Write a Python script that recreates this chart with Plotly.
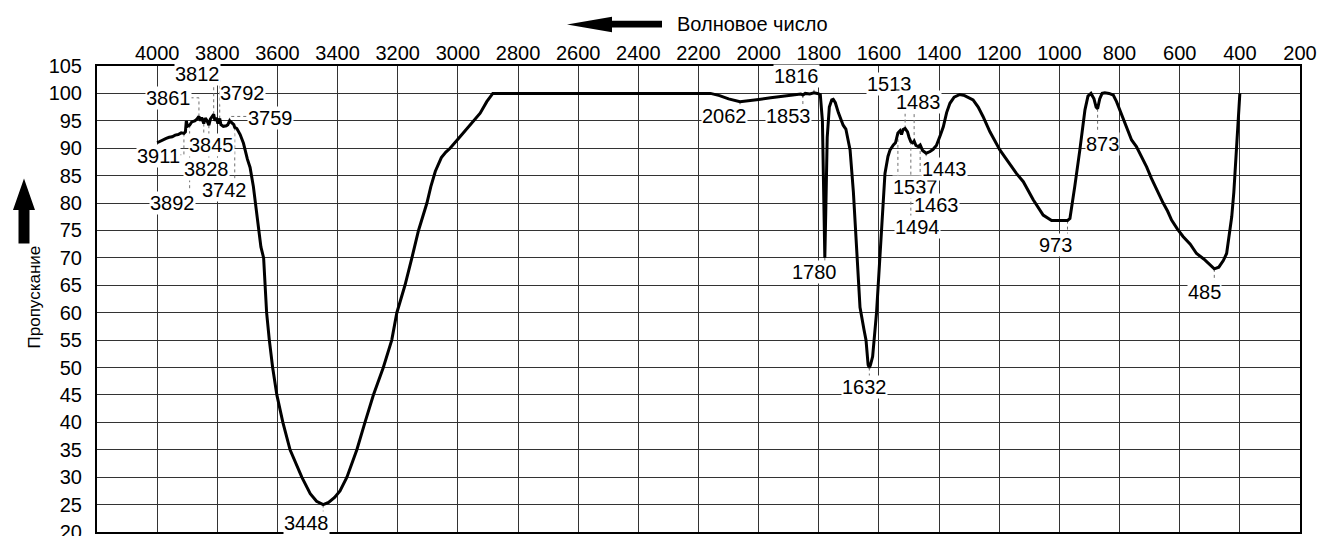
import plotly.graph_objects as go

# IR spectrum: wavenumber (cm-1) and transmittance (%)
wavenumber = [
    4000, 3990, 3980, 3970, 3960, 3950, 3940, 3930, 3920, 3911, 3906, 3903, 3899, 3892,
    3885, 3875, 3868, 3861, 3856, 3852, 3845, 3840, 3834, 3828, 3823, 3818, 3812, 3808,
    3803, 3798, 3792, 3788, 3780, 3770, 3765, 3759, 3752, 3745, 3742, 3735, 3724, 3713,
    3700, 3691, 3680, 3671, 3663, 3655, 3646, 3640, 3636, 3627, 3616, 3602, 3582, 3558,
    3535, 3519, 3491, 3470, 3448, 3430, 3410, 3392, 3369, 3336, 3309, 3281, 3248, 3220,
    3203, 3176, 3153, 3131, 3103, 3090, 3075, 3055, 3040, 3026, 2993, 2960, 2926, 2904,
    2884, 2600, 2300, 2160, 2130, 2100, 2062, 2040, 2000, 1960, 1920, 1880, 1860, 1853,
    1845, 1830, 1816, 1805, 1795, 1788, 1784, 1780, 1777, 1772, 1765, 1757, 1752, 1745,
    1735, 1725, 1719, 1710, 1696, 1685, 1677, 1663, 1650, 1643, 1636, 1632, 1628, 1621,
    1608, 1596, 1591, 1580, 1570, 1563, 1552, 1545, 1537, 1530, 1525, 1520, 1513, 1505,
    1500, 1494, 1488, 1483, 1477, 1470, 1463, 1455, 1443, 1430, 1420, 1409, 1395, 1386,
    1375, 1364, 1350, 1331, 1315, 1300, 1287, 1270, 1254, 1231, 1209, 1198, 1170, 1143,
    1120, 1087, 1054, 1026, 1000, 973, 965, 957, 949, 932, 915, 905, 895, 885, 878, 873,
    866, 858, 849, 835, 821, 810, 799, 777, 760, 744, 727, 710, 694, 677, 655, 640, 627,
    608, 589, 565, 544, 520, 500, 490, 485, 470, 455, 444, 435, 427, 420, 411, 405, 400,
]
transmittance = [
    91.0, 91.3, 91.5, 91.8, 92.0, 92.1, 92.4, 92.5, 92.8, 92.7, 93.0, 95.0, 94.0, 94.2,
    94.8, 95.0, 95.3, 95.8, 95.0, 95.6, 94.5, 95.5, 95.0, 94.2, 95.3, 95.8, 96.2, 95.0,
    95.6, 94.5, 95.4, 94.3, 94.0, 94.1, 94.3, 95.0, 94.6, 94.3, 93.8, 93.6, 92.5, 90.9,
    88.0, 86.5, 83.0, 79.0, 75.0, 72.0, 70.0, 65.0, 60.0, 55.0, 50.0, 45.0, 40.0, 35.0,
    32.0, 30.0, 27.0, 25.6, 25.0, 25.4, 26.3, 27.5, 30.0, 35.0, 40.0, 45.0, 50.0, 55.0,
    60.0, 65.0, 70.0, 75.0, 80.0, 83.0, 85.8, 88.3, 89.3, 90.0, 92.1, 94.2, 96.4, 98.5,
    100.0, 100.0, 100.0, 100.0, 99.6, 99.0, 98.5, 98.6, 98.9, 99.2, 99.5, 99.8, 99.9, 99.7,
    100.0, 99.9, 100.1, 100.0, 99.8, 95.0, 80.0, 70.0, 78.0, 92.0, 97.5, 98.8, 98.9, 98.3,
    96.5, 94.8, 94.2, 93.5, 89.7, 82.0, 75.0, 61.0, 57.0, 55.0, 50.5, 50.0, 50.5, 52.0,
    60.0, 70.0, 74.5, 85.4, 88.5, 89.7, 90.6, 91.0, 92.8, 93.2, 92.5, 93.4, 93.6, 93.0,
    92.0, 91.2, 91.0, 91.3, 90.5, 90.3, 90.6, 89.6, 89.1, 89.4, 89.8, 90.5, 92.5, 93.9,
    96.5, 98.2, 99.3, 99.8, 99.6, 99.2, 98.8, 97.5, 95.8, 93.0, 90.6, 89.7, 87.5, 85.4,
    83.9, 80.6, 77.8, 76.8, 76.8, 76.8, 77.2, 80.0, 83.0, 89.7, 97.0, 99.5, 100.0, 99.0,
    97.5, 97.2, 99.0, 100.0, 100.1, 100.0, 99.7, 98.5, 97.0, 93.9, 91.5, 90.3, 88.5, 86.6,
    84.5, 82.4, 80.0, 78.5, 76.9, 75.3, 73.9, 72.5, 70.8, 69.8, 68.7, 68.3, 68.0, 68.3,
    69.5, 70.8, 74.0, 77.5, 82.0, 89.7, 95.0, 100.0,
]

# Labelled band positions
peak_labels = [3911, 3892, 3861, 3845, 3828, 3812, 3792, 3759, 3742, 3448, 2062, 1853,
               1816, 1780, 1632, 1537, 1513, 1494, 1483, 1463, 1443, 973, 873, 485]

# x-axis ticks and y-axis ticks
x_ticks = list(range(4000, 199, -200))
y_ticks = list(range(20, 106, 5))

# Where each band label sits: (text x, text y, leader bend y, leader end x)
label_place = {
    3911: (3995, 88.5, 88.8, 3924),
    3892: (3948, 80.0, 82.1, None),
    3861: (3963, 99.1, 99.2, 3890),
    3845: (3818, 90.5, 91.9, None),
    3828: (3837, 86.2, 87.8, None),
    3812: (3865, 103.6, 102.6, None),
    3792: (3716, 100.0, 102.4, None),
    3759: (3624, 95.5, 95.8, 3695),
    3742: (3776, 82.4, 83.9, None),
    3448: (3505, 21.7, 23.7, None),
    2062: (2115, 95.9, 97.2, None),
    1853: (1902, 95.9, 97.3, None),
    1816: (1874, 103.2, 101.8, None),
    1780: (1814, 67.5, 68.7, None),
    1632: (1647, 46.5, 48.0, None),
    1537: (1480, 83.0, 84.5, None),
    1513: (1566, 101.8, 100.6, None),
    1494: (1472, 75.7, 76.9, None),
    1483: (1467, 98.5, 97.3, None),
    1463: (1408, 79.6, 80.9, None),
    1443: (1381, 86.2, 87.3, None),
    973: (1012, 72.3, 73.9, None),
    873: (856, 90.8, 92.1, None),
    485: (518, 63.8, 65.6, None),
}

FONT = "Liberation Sans, Arial, sans-serif"
W, H = 1320, 536
ML, MR, MT, MB = 97, 20, 66, 4
PW, PH = W - ML - MR, H - MT - MB


def px(x):
    return (x - ML) / PW


def py(y):
    return (H - MB - y) / PH


fig = go.Figure()

# dotted leader lines from each band to its label
lookup = dict(zip(wavenumber, transmittance))
for wn in peak_labels:
    tx, ty, ly, lx_end = label_place[wn]
    t = lookup[wn]
    xs = [wn, wn]
    ys = [t, ly]
    if lx_end is not None:
        xs.append(lx_end)
        ys.append(ly)
    fig.add_trace(go.Scatter(
        x=xs, y=ys, mode="lines",
        line=dict(color="#707070", width=1, dash="dot"),
        hoverinfo="skip", showlegend=False,
    ))

fig.add_trace(go.Scatter(
    x=wavenumber, y=transmittance, mode="lines",
    line=dict(color="black", width=3),
    showlegend=False,
))

for wn in peak_labels:
    tx, ty, _, _ = label_place[wn]
    fig.add_annotation(
        x=tx, y=ty, xref="x", yref="y", text=str(wn), showarrow=False,
        font=dict(family=FONT, size=20, color="black"),
        bgcolor="white", borderpad=0,
    )

# axis captions with their arrows
fig.add_annotation(
    x=px(675), y=py(24), xref="paper", yref="paper", xanchor="left", yanchor="middle",
    text="Волновое число", showarrow=False,
    font=dict(family=FONT, size=20, color="black"),
)
fig.add_annotation(
    x=px(22.5), y=py(297.5), xref="paper", yref="paper", textangle=-90,
    text="Пропускание", showarrow=False,
    font=dict(family=FONT, size=17, color="black"),
)


def arrow_path(points):
    return "M " + " L ".join(f"{px(a):.5f},{py(b):.5f}" for a, b in points) + " Z"


fig.add_shape(
    type="path", xref="paper", yref="paper", fillcolor="black", line=dict(width=0),
    path=arrow_path([(567, 24.5), (612, 16.8), (612, 20.8), (662, 20.8),
                     (662, 27.6), (612, 27.6), (612, 32.2)]),
)
fig.add_shape(
    type="path", xref="paper", yref="paper", fillcolor="black", line=dict(width=0),
    path=arrow_path([(24, 178.5), (35, 210), (29.5, 210), (29.5, 243.5),
                     (18.5, 243.5), (18.5, 210), (13, 210)]),
)

fig.update_layout(
    width=W, height=H,
    margin=dict(l=ML, r=MR, t=MT, b=MB, autoexpand=False),
    paper_bgcolor="white", plot_bgcolor="white",
    font=dict(family=FONT, size=20, color="black"),
    xaxis=dict(
        range=[4200, 200], side="top", tickvals=x_ticks,
        ticktext=[str(v) for v in x_ticks],
        showgrid=True, gridcolor="#333333", gridwidth=1.2,
        showline=True, linecolor="black", linewidth=2, mirror=True,
        ticks="", zeroline=False, ticklabelstandoff=-4,
        ticklabeloverflow="allow", automargin=False,
    ),
    yaxis=dict(
        range=[20, 105], tickvals=y_ticks,
        ticktext=[str(v) for v in y_ticks],
        showgrid=True, gridcolor="#333333", gridwidth=1.2,
        showline=True, linecolor="black", linewidth=2, mirror=True,
        ticks="", zeroline=False, ticklabelstandoff=9,
        ticklabeloverflow="allow", automargin=False,
    ),
)

fig.write_html("out.html")
